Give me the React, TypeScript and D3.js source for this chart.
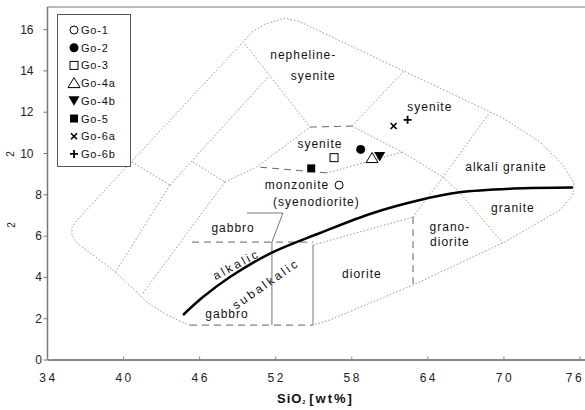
import React from "react";
import * as d3 from "d3";

const W = 585;
const H = 410;

// axis ticks
const xTicks = [34, 40, 46, 52, 58, 64, 70, 76];
const yTicks = [0, 2, 4, 6, 8, 10, 12, 14, 16];

// samples: SiO2 [wt%], Na2O+K2O [wt%]
const sampleNames = ["Go-1", "Go-2", "Go-3", "Go-4a", "Go-4b", "Go-5", "Go-6a", "Go-6b"];
const sampleSiO2 = [57.0, 58.7, 56.6, 59.6, 60.2, 54.8, 61.3, 62.4];
const sampleAlkali = [8.47, 10.2, 9.8, 9.78, 9.85, 9.28, 11.33, 11.63];

// rounded field outline (dotted)
const outline = [
  [45.24, 1.69], [44.45, 1.89], [43.27, 2.23], [41.93, 2.76], [39.17, 4.36],
  [36.41, 5.62], [35.93, 6.0], [35.93, 6.44], [36.41, 6.83], [49.42, 15.4],
  [50.13, 15.88], [51.15, 16.27], [52.73, 16.56], [53.76, 16.42], [69.92, 11.72],
  [72.84, 10.56], [74.66, 9.44], [75.53, 8.57], [75.44, 7.99], [74.42, 7.26],
  [69.92, 5.67], [62.83, 3.63], [56.28, 1.94], [54.94, 1.69],
];

// alkalic / subalkalic divide
const alkalicDivide = [
  [44.69, 2.18], [46.26, 3.05], [48.39, 4.02], [51.7, 5.2], [55.49, 6.15],
  [59.67, 7.12], [63.38, 7.75], [66.5, 8.12], [70.71, 8.3], [75.44, 8.35],
];

const dottedLines = [
  [[40.66, 9.59], [43.66, 8.47]],
  [[43.66, 8.47], [39.32, 4.21]],
  [[43.66, 8.47], [51.47, 13.75]],
  [[45.47, 9.59], [47.99, 8.62]],
  [[47.99, 8.62], [41.53, 3.24]],
  [[47.99, 8.62], [50.52, 9.35], [54.7, 11.28]],
  [[49.58, 15.3], [54.7, 11.28]],
  [[58.01, 11.33], [62.19, 14.04]],
  [[58.01, 11.33], [61.96, 10.07], [65.19, 8.86], [66.53, 8.09], [69.92, 5.67]],
  [[61.96, 10.07], [56.04, 9.06]],
  [[62.83, 6.92], [65.19, 8.86], [68.9, 12.0]],
  [[54.94, 5.57], [62.83, 6.92]],
];

const dashedLines = [
  [[54.7, 11.28], [58.01, 11.33]],
  [[56.04, 9.06], [50.52, 9.35]],
  [[62.83, 6.92], [62.83, 3.63]],
  [[45.4, 5.71], [54.94, 5.71]],
  [[45.24, 1.69], [54.94, 1.69]],
];

const solidLines = [
  [[51.7, 5.71], [51.7, 1.69]],
  [[54.94, 5.57], [54.94, 1.69]],
  [[49.73, 7.12], [52.57, 7.12], [51.7, 5.71]],
];

// field names
const fieldNames = [
  "nepheline-", "syenite", "syenite", "syenite", "monzonite", "(syenodiorite)",
  "gabbro", "gabbro", "alkalic", "subalkalic", "diorite", "grano-", "diorite",
  "alkali granite", "granite",
];
const fieldSiO2 = [54.17, 54.96, 64.16, 55.49, 53.68, 55.21, 48.64, 48.16, 48.9, 51.23, 58.8, 65.74, 65.74, 70.16, 70.71];
const fieldAlkali = [14.77, 13.75, 12.25, 10.46, 8.47, 7.65, 6.39, 2.23, 4.62, 3.68, 4.16, 6.44, 5.71, 9.35, 7.36];

const FONT = "'Liberation Sans', Arial, sans-serif";

function Marker({ kind, cx, cy }: { kind: number; cx: number; cy: number }) {
  const s = 4;
  switch (kind) {
    case 0:
      return <circle cx={cx} cy={cy} r={s} fill="#fff" stroke="#000" strokeWidth={1} />;
    case 1:
      return <circle cx={cx} cy={cy} r={s + 0.5} fill="#000" />;
    case 2:
      return <rect x={cx - s} y={cy - s} width={2 * s} height={2 * s} fill="#fff" stroke="#000" strokeWidth={1} />;
    case 3:
      return (
        <path
          d={`M${cx},${cy - 5.5}L${cx + 6},${cy + 4.5}L${cx - 6},${cy + 4.5}Z`}
          fill="#fff" stroke="#000" strokeWidth={1}
        />
      );
    case 4:
      return <path d={`M${cx - 5.5},${cy - 4.5}L${cx + 5.5},${cy - 4.5}L${cx},${cy + 5}Z`} fill="#000" />;
    case 5:
      return <rect x={cx - s} y={cy - s} width={2 * s} height={2 * s} fill="#000" />;
    case 6:
      return (
        <path d={`M${cx - 3},${cy - 3}L${cx + 3},${cy + 3}M${cx - 3},${cy + 3}L${cx + 3},${cy - 3}`} stroke="#000" strokeWidth={1.6} />
      );
    default:
      return (
        <path d={`M${cx - 4},${cy}L${cx + 4},${cy}M${cx},${cy - 4}L${cx},${cy + 4}`} stroke="#000" strokeWidth={1.8} />
      );
  }
}

export default function App() {
  const x = d3.scaleLinear().domain([34, 76]).range([47.5, 580]);
  const y = d3.scaleLinear().domain([0, 17.1]).range([360, 6.9]);
  const line = d3.line<number[]>().x((d) => x(d[0])).y((d) => y(d[1]));
  const smooth = d3.line<number[]>().x((d) => x(d[0])).y((d) => y(d[1])).curve(d3.curveCatmullRom.alpha(0.5));
  const tilt: Record<string, number> = { alkalic: -28, subalkalic: -35 };

  return (
    <svg width={W} height={H} style={{ position: "absolute", left: 0, top: 0, background: "#fff" }} fontFamily={FONT}>
      {/* frame */}
      <line x1={47.5} x2={W} y1={7} y2={7} stroke="#777" strokeWidth={1} />
      <line x1={47.5} x2={47.5} y1={7} y2={360} stroke="#777" strokeWidth={1.5} />
      <line x1={47.5} x2={W} y1={360} y2={360} stroke="#888" strokeWidth={2} />

      {/* field boundaries */}
      <path d={line(outline) || ""} fill="none" stroke="#8a8a8a" strokeWidth={0.9} strokeDasharray="1.5 2" />
      {dottedLines.map((l, i) => (
        <path key={"d" + i} d={line(l) || ""} fill="none" stroke="#8a8a8a" strokeWidth={0.9} strokeDasharray="1.5 2" />
      ))}
      {dashedLines.map((l, i) => (
        <path key={"h" + i} d={line(l) || ""} fill="none" stroke="#666" strokeWidth={1} strokeDasharray="7 5" />
      ))}
      {solidLines.map((l, i) => (
        <path key={"s" + i} d={line(l) || ""} fill="none" stroke="#777" strokeWidth={1} />
      ))}
      <path d={smooth(alkalicDivide) || ""} fill="none" stroke="#000" strokeWidth={2.5} />

      {/* field names */}
      {fieldNames.map((n, i) => {
        const cx = x(fieldSiO2[i]);
        const cy = y(fieldAlkali[i]);
        const a = tilt[n] || 0;
        return (
          <text
            key={"f" + i}
            x={cx}
            y={cy}
            textAnchor="middle"
            dominantBaseline="central"
            fontSize={12}
            letterSpacing={a ? 2.6 : 1}
            fill="#111"
            transform={a ? `rotate(${a},${cx},${cy})` : undefined}
          >
            {n}
          </text>
        );
      })}

      {/* samples */}
      {sampleNames.map((n, i) => (
        <Marker key={n} kind={i} cx={x(sampleSiO2[i])} cy={y(sampleAlkali[i])} />
      ))}

      {/* y axis */}
      {yTicks.map((t) => (
        <g key={"y" + t}>
          <line x1={43.5} x2={47.5} y1={y(t)} y2={y(t)} stroke="#777" />
          <text x={t >= 10 ? 33.5 : 42} y={y(t)} textAnchor="end" dominantBaseline="central" fontSize={12} fill="#222">
            {t}
          </text>
        </g>
      ))}
      <text x={10} y={154} fontSize={10} fill="#222" textAnchor="middle" dominantBaseline="central" transform="rotate(-90,10,154)">2</text>
      <text x={11} y={225} fontSize={10} fill="#222" textAnchor="middle" dominantBaseline="central" transform="rotate(-90,11,225)">2</text>

      {/* x axis */}
      {xTicks.map((t) => (
        <g key={"x" + t}>
          <line x1={x(t)} x2={x(t)} y1={356.5} y2={360} stroke="#888" />
          <text x={Math.min(x(t) + 1, W - 10)} y={382} textAnchor="middle" fontSize={12} letterSpacing={2.5} fill="#222">
            {t}
          </text>
        </g>
      ))}
      <text x={277} y={403} fontSize={13} fontWeight="bold" letterSpacing={1} fill="#111">
        SiO
        <tspan fontSize={5} dy={1}>2</tspan>
        <tspan fontSize={13} dy={-1} dx={3} letterSpacing={2}>[wt%]</tspan>
      </text>

      {/* legend */}
      <rect x={57.5} y={14.5} width={73} height={152} fill="#fff" stroke="#555" strokeWidth={1} />
      {sampleNames.map((n, i) => {
        const ly = 30 + i * 17.7;
        return (
          <g key={"l" + n}>
            <Marker kind={i} cx={74} cy={ly} />
            <text x={81} y={ly} dominantBaseline="central" fontSize={11} letterSpacing={0.8} fill="#111">
              {n}
            </text>
          </g>
        );
      })}
    </svg>
  );
}
